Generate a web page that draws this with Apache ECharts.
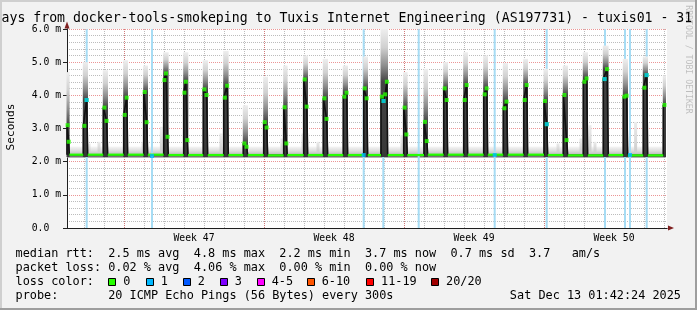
<!DOCTYPE html>
<html><head><meta charset="utf-8">
<script src="https://cdn.jsdelivr.net/npm/echarts@6/dist/echarts.min.js"></script>
<style>html,body{margin:0;padding:0;background:#f2f2f2}#c{width:697px;height:310px}</style>
</head><body><div id="c"></div>
<script>
// ---- data (time unit: days since the left edge of the 30-day plot) ----
const weekLabels = ['Week 47', 'Week 48', 'Week 49', 'Week 50'];
const weekLabelPos = [6.35, 13.35, 20.35, 27.35];
const dayLines = [0.85,1.85,2.85,3.85,4.85,5.85,6.85,7.85,8.85,9.85,10.85,11.85,12.85,13.85,14.85,15.85,16.85,17.85,18.85,19.85,20.85,21.85,22.85,23.85,24.85,25.85,26.85,27.85,28.85,29.85];
const weekLines = [2.85, 9.85, 16.85, 23.85];
const yTicks = [0, 1, 2, 3, 4, 5, 6];

// daily latency humps: rise time, fall time, median samples (ms), smoke top (ms)
const peakRise = [0.0,0.815,1.815,2.835,3.835,4.835,5.835,6.815,7.835,8.815,9.835,10.835,11.835,12.815,13.815,14.835,15.7,16.835,17.85,18.835,19.835,20.835,21.815,22.835,23.85,24.815,25.815,26.815,27.815,28.815,29.815];
const peakFall = [0.115,1.035,2.035,3.035,4.035,5.065,6.05,7.035,8.065,9.035,10.035,11.015,12.035,13.035,14.035,15.035,16.035,17.015,18.035,19.035,20.035,21.035,22.035,23.035,24.035,25.035,26.035,27.065,28.035,29.035,29.935];
const peakVals = [[3.1,2.6],[3.08,3.86],[3.63,3.23],[3.41,3.93],[4.1,3.19],[4.46,4.66,2.75],[4.08,4.41,2.65],[4.18,4.01],[3.93,4.29],[2.55,2.45],[3.19,3.03],[3.64,2.55],[4.48,3.66],[3.91,3.29],[3.96,4.08],[4.21,3.91],[3.96,3.83,4.03,4.41],[3.63,2.82],[3.2,2.62],[4.21,3.86],[3.86,4.31],[4.03,4.21],[3.61,3.81],[3.86,4.31],[3.83,3.13],[4.01,2.65],[4.41,4.51],[4.49,4.79],[3.96,3.99],[4.23,4.61],[3.71]];
const peakTop = [4.7,5.0,4.76,5.06,4.9,5.3,5.3,5.06,5.34,3.7,4.56,4.9,5.2,5.1,4.9,5.17,6.0,4.7,4.8,5.0,5.3,5.2,4.97,5.1,4.8,4.9,5.3,5.5,5.1,5.17,4.6];
// baseline median after each hump
const gapMedian = [2.21,2.21,2.21,2.21,2.21,2.2,2.2,2.2,2.2,2.2,2.19,2.2,2.2,2.2,2.2,2.2,2.2,2.2,2.21,2.21,2.21,2.21,2.21,2.21,2.2,2.19,2.19,2.2,2.19,2.19];
const baseSmoke = [2.12, 2.46];
const lastSample = 29.935;
// isolated smoke spikes on the baseline
const spikeT = [1.1,1.6,3.8,4.72,7.7,10.75,11.8,12.55,16.75,24.55,25.7,26.15,26.4,28.43];
const spikeTop = [2.55,2.6,2.6,3.05,2.85,2.7,2.85,2.6,2.8,2.55,2.7,3.1,2.6,3.2];
// packet loss (1/20) events
const lossT = [0.985,4.25,14.835,15.815,17.585,21.385,23.985,26.9,27.9,28.15,28.985];
const lossDotT = [0.98,4.25,14.835,15.826,21.385,23.99,26.88,28.15,28.98];
const lossDotV = [3.86,2.17,2.2,3.83,2.2,3.13,4.49,2.2,4.61];

const legendRows = [
  'median rtt:  2.5 ms avg  4.8 ms max  2.2 ms min  3.7 ms now  0.7 ms sd  3.7   am/s',
  'packet loss: 0.02 % avg  4.06 % max  0.00 % min  0.00 % now',
  'loss color:',
  'probe:       20 ICMP Echo Pings (56 Bytes) every 300s'
];
const lossNames = ['0','1','2','3','4-5','6-10','11-19','20/20'];
const lossColors = ['#26ff00','#00b8ff','#0059ff','#7e00ff','#ff00ff','#ff5500','#ff0000','#a10000'];
const stamp = 'Sat Dec 13 01:42:24 2025';
const title = 'ays from docker-tools-smokeping to Tuxis Internet Engineering (AS197731) - tuxis01 - 31';

// ---- build series data from the arrays ----
const medianLine = [], greenDots = [], gapSegs = [], columns = [];
for (let i = 0; i < peakRise.length; i++) {
  const base = i === 0 ? gapMedian[0] : gapMedian[i - 1];
  const r = peakRise[i], f = peakFall[i], vals = peakVals[i];
  medianLine.push([r, base], [r, vals[0]]);
  vals.forEach((v, j) => {
    const t = r + (f - r) * (j + 0.5) / vals.length;
    medianLine.push([t, v]); greenDots.push([t, v]);
  });
  medianLine.push([f, vals[vals.length - 1]]);
  if (i < gapMedian.length) {
    medianLine.push([f, gapMedian[i]]);
    const next = i + 1 < peakRise.length ? peakRise[i + 1] : lastSample;
    gapSegs.push([f, next, gapMedian[i]]);
  }
  columns.push([r, f, peakTop[i], Math.max.apply(null, vals)]);
}

const MONO = "'DejaVu Sans Mono', monospace";
const gridColor = 'rgba(143,143,143,0.6)';
const mgridColor = 'rgba(222,79,79,0.6)';
const chart = echarts.init(document.getElementById('c'), null, {renderer: 'canvas', width: 697, height: 310});

const graphics = [
  {type: 'rect', shape: {x: 0, y: 0, width: 697, height: 2}, style: {fill: '#cfcfcf'}, silent: true},
  {type: 'rect', shape: {x: 0, y: 0, width: 2, height: 310}, style: {fill: '#cfcfcf'}, silent: true},
  {type: 'rect', shape: {x: 0, y: 308, width: 697, height: 2}, style: {fill: '#9e9e9e'}, silent: true},
  {type: 'rect', shape: {x: 695, y: 0, width: 2, height: 310}, style: {fill: '#9e9e9e'}, silent: true},
  {type: 'text', x: 1.5, y: 19, style: {text: title, font: "13.2px 'DejaVu Sans Mono'", fill: '#000', textAlign: 'left', textVerticalAlign: 'middle', align: 'left', verticalAlign: 'middle'}},
  {type: 'text', x: 688, y: 59.5, rotation: -Math.PI / 2, style: {text: 'RRDTOOL / TOBI OETIKER', font: "8.2px 'DejaVu Sans Mono'", fill: 'rgba(0,0,0,0.22)', textAlign: 'center', textVerticalAlign: 'middle', align: 'center', verticalAlign: 'middle'}},
  {type: 'text', x: 10.8, y: 127, rotation: Math.PI / 2, style: {text: 'Seconds', font: "11.1px 'DejaVu Sans Mono'", fill: '#000', textAlign: 'center', textVerticalAlign: 'middle', align: 'center', verticalAlign: 'middle'}},
  {type: 'text', x: 681, y: 296, style: {text: stamp, font: "11.85px 'DejaVu Sans Mono'", fill: '#000', textAlign: 'right', textVerticalAlign: 'middle', align: 'right', verticalAlign: 'middle'}}
];
const rowY = [254.3, 268.3, 282, 296];
legendRows.forEach((s, i) => graphics.push({type: 'text', x: 15.5, y: rowY[i], style: {text: s, font: "11.85px 'DejaVu Sans Mono'", fill: '#000', textAlign: 'left', textVerticalAlign: 'middle', align: 'left', verticalAlign: 'middle'}}));
const swatchX = [108.3, 145.7, 182.7, 219.7, 256.7, 306.7, 366, 431];
lossNames.forEach((n, i) => {
  graphics.push({type: 'rect', shape: {x: Math.round(swatchX[i]) + 0.5, y: 278.5, width: 7, height: 7}, style: {fill: lossColors[i], stroke: '#000', lineWidth: 1}});
  graphics.push({type: 'text', x: swatchX[i] + 15, y: 282, style: {text: n, font: "11.85px 'DejaVu Sans Mono'", fill: '#000', textAlign: 'left', textVerticalAlign: 'middle', align: 'left', verticalAlign: 'middle'}});
});

function weekName(v) {
  for (let i = 0; i < weekLabelPos.length; i++) if (Math.abs(weekLabelPos[i] - v) < 1e-6) return weekLabels[i];
  return '';
}

const option = {
  backgroundColor: '#f2f2f2',
  animation: false,
  grid: {left: 67, top: 29, width: 600, height: 199, show: true, backgroundColor: '#fff', borderWidth: 0},
  xAxis: [
    {type: 'value', min: 0, max: 30, position: 'bottom', z: 1,
     axisLine: {show: true, onZero: false, lineStyle: {color: '#1f1f1f', width: 1}},
     axisTick: {show: false}, splitLine: {show: false},
     axisLabel: {show: true, customValues: weekLabelPos, formatter: weekName, fontFamily: MONO, fontSize: 9.75, color: '#000', margin: 5}},
    {type: 'value', min: 0, max: 30, position: 'bottom', z: 0,
     axisLine: {show: true, onZero: false, lineStyle: {color: '#7f1f1f', width: 1}, symbol: ['none', 'triangle'], symbolSize: [5, 6], symbolOffset: [0, 4]},
     axisTick: {show: false, customValues: dayLines}, axisLabel: {show: false},
     splitLine: {show: true, lineStyle: {color: gridColor, type: [1, 1], width: 1}}},
    {type: 'value', min: 0, max: 30, position: 'bottom', z: 0,
     axisLine: {show: false, onZero: false}, axisTick: {show: false, customValues: weekLines}, axisLabel: {show: false},
     splitLine: {show: true, lineStyle: {color: mgridColor, type: [1, 1], width: 1}}}
  ],
  yAxis: [
    {type: 'value', min: 0, max: 6, interval: 1, position: 'left', z: 1,
     axisLine: {show: true, onZero: false, lineStyle: {color: '#1f1f1f', width: 1}},
     axisTick: {show: true, length: 4, lineStyle: {color: '#1f1f1f'}},
     axisLabel: {show: true, fontFamily: MONO, fontSize: 9.75, color: '#000', margin: 6,
                 formatter: v => yTicks.indexOf(v) === 0 ? '0.0  ' : v.toFixed(1) + ' m'},
     splitLine: {show: true, lineStyle: {color: mgridColor, type: [1, 1], width: 1}},
     minorTick: {show: false, splitNumber: 5},
     minorSplitLine: {show: true, lineStyle: {color: gridColor, type: [1, 1], width: 1}}},
    {type: 'value', min: 0, max: 6, position: 'left', z: 0,
     axisLine: {show: true, onZero: false, lineStyle: {color: '#7f1f1f', width: 1}, symbol: ['none', 'triangle'], symbolSize: [5, 7], symbolOffset: [0, 4]},
     axisTick: {show: false}, axisLabel: {show: false}, splitLine: {show: false}}
  ],
  graphic: graphics,
  series: [
    { // baseline smoke band
      type: 'custom', z: 2, silent: true,
      data: [[0, lastSample, baseSmoke[0], baseSmoke[1]]],
      renderItem: (p, api) => {
        const a = api.coord([api.value(0), api.value(3)]), b = api.coord([api.value(1), api.value(2)]);
        return {type: 'rect', shape: {x: a[0], y: a[1], width: b[0] - a[0], height: b[1] - a[1]},
          style: {fill: new echarts.graphic.LinearGradient(0, 0, 0, 1, [
            {offset: 0, color: '#f6f6f6'}, {offset: 0.4, color: '#dcdcdc'}, {offset: 0.72, color: '#bcbcbc'},
            {offset: 0.86, color: '#666'}, {offset: 1, color: '#a0a0a0'}])}};
      }
    },
    { // smoke spikes
      type: 'custom', z: 2, silent: true,
      data: spikeT.map((t, i) => [t, spikeTop[i]]),
      renderItem: (p, api) => {
        const a = api.coord([api.value(0), api.value(1)]), b = api.coord([api.value(0), 2.3]);
        return {type: 'rect', shape: {x: a[0] - 1.5, y: a[1], width: 3, height: b[1] - a[1]},
          style: {fill: new echarts.graphic.LinearGradient(0, 0, 0, 1, [{offset: 0, color: '#ececec'}, {offset: 1, color: '#cdcdcd'}])}};
      }
    },
    { // loss bars
      type: 'custom', z: 3, silent: true,
      data: lossT.map(t => [t, 0]),
      renderItem: (p, api) => {
        const a = api.coord([api.value(0), 6]), b = api.coord([api.value(0), 0]);
        return {type: 'rect', shape: {x: a[0] - 1, y: a[1], width: 2, height: b[1] - a[1]}, style: {fill: '#a6dcf4'}};
      }
    },
    { // hump smoke columns
      type: 'custom', z: 4, silent: true,
      data: columns,
      renderItem: (p, api) => {
        const r = api.value(0), f = api.value(1), top = api.value(2), med = api.value(3);
        const a = api.coord([r, top]), b = api.coord([f, 2.14]), m = api.coord([r, med]);
        const s = Math.max(0.02, Math.min(0.95, (m[1] - a[1]) / (b[1] - a[1])));
        return {type: 'rect', shape: {x: a[0] - 0.5, y: a[1], width: b[0] - a[0] + 0.8, height: b[1] - a[1]},
          style: {fill: new echarts.graphic.LinearGradient(0, 0, 0, 1, [
            {offset: 0, color: '#eeeeee'}, {offset: s * 0.35, color: '#d0d0d0'}, {offset: s * 0.7, color: '#8c8c8c'},
            {offset: s, color: '#444'}, {offset: 1, color: '#383838'}])}};
      }
    },
    { // median line
      type: 'line', z: 5, silent: true, data: medianLine, showSymbol: false,
      lineStyle: {color: '#111', width: 1.6}
    },
    { // green baseline (loss 0)
      type: 'custom', z: 6, silent: true, data: gapSegs,
      renderItem: (p, api) => {
        const a = api.coord([api.value(0), api.value(2)]), b = api.coord([api.value(1), api.value(2)]);
        return {type: 'line', shape: {x1: a[0], y1: a[1], x2: b[0], y2: b[1]}, style: {stroke: '#26ff00', lineWidth: 2.2}};
      }
    },
    {type: 'scatter', z: 7, silent: true, data: greenDots, symbol: 'rect', symbolSize: 4, itemStyle: {color: '#26ff00'}},
    {type: 'scatter', z: 8, silent: true, data: lossDotT.map((t, i) => [t, lossDotV[i]]), symbol: 'rect', symbolSize: 4, itemStyle: {color: '#00b8ff'}}
  ]
};
chart.setOption(option);
</script></body></html>
